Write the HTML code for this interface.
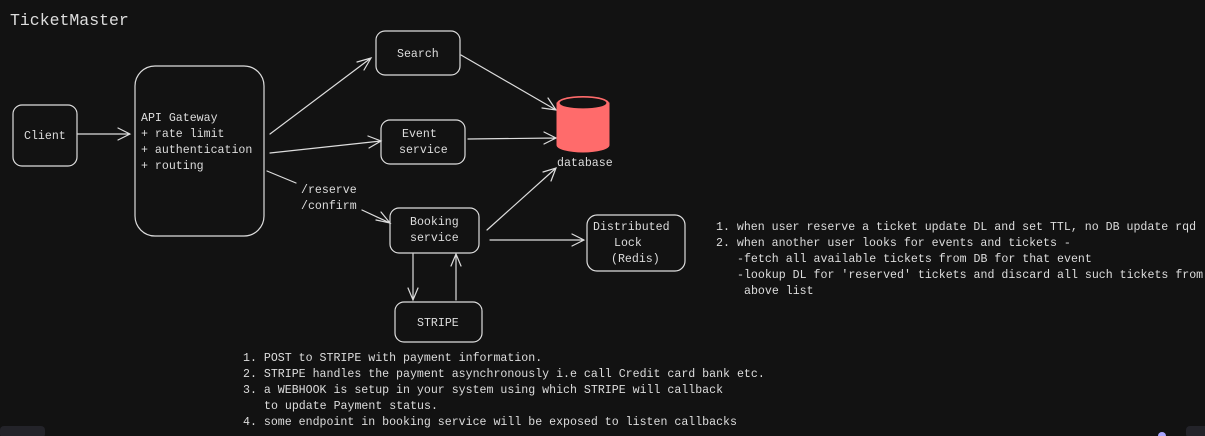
<!DOCTYPE html>
<html><head><meta charset="utf-8"><style>
html,body{margin:0;padding:0;background:#121212;width:1205px;height:436px;overflow:hidden}
svg{display:block}
text{font-family:"Liberation Mono",monospace;fill:#ddd;font-size:11.6px;white-space:pre}
</style></head><body>
<svg width="1205" height="436" viewBox="0 0 1205 436" xml:space="preserve">
<rect width="1205" height="436" fill="#121212"/>
<text x="10" y="25" style="font-size:16.5px">TicketMaster</text>
<g fill="none" stroke="#ddd" stroke-width="1.2" stroke-linecap="round">
<rect x="13" y="105" width="64" height="61" rx="9"/>
<rect x="135" y="66" width="129" height="170" rx="20"/>
<rect x="376" y="31" width="84" height="44" rx="9"/>
<rect x="381" y="120" width="84" height="44" rx="9"/>
<rect x="390" y="208" width="89" height="45" rx="9"/>
<rect x="395" y="302" width="87" height="40" rx="9"/>
<rect x="587" y="215" width="98" height="56" rx="10"/>
<path d="M78 134 L130 134 M118 128 L130 134 L118 140"/>
<path d="M270 134 L371 58 M357 62 L371 58 L364 70"/>
<path d="M270 153 L381 141 M368 136 L381 141 L369 148"/>
<path d="M461 55 L556 110 M548 98 L556 110 L542 108"/>
<path d="M468 139 L556 138 M544 132 L556 138 L544 144"/>
<path d="M267 171 L296 183"/>
<path d="M362 210 L390 223 M381 212 L390 223 L376 220"/>
<path d="M487 230 L556 168 M543 172 L556 168 L551 181"/>
<path d="M490 240 L584 240 M572 234 L584 240 L572 246"/>
<path d="M413 254 L413 300 M408 288 L413 300 L418 288"/>
<path d="M456 300 L456 254 M451 266 L456 254 L461 266"/>
</g>
<path d="M557 103 L557 145 A26 7 0 0 0 609 145 L609 103 Z" fill="#ff6b6b" stroke="#ff6b6b"/>
<ellipse cx="583" cy="103" rx="26" ry="7" fill="#ff6b6b"/>
<ellipse cx="583" cy="103" rx="23" ry="5" fill="#121212" stroke="#121212" stroke-width="0.8"/>
<text x="557" y="166">database</text>
<text x="24" y="139">Client</text>
<text x="141" y="121">API Gateway</text>
<text x="141" y="137">+ rate limit</text>
<text x="141" y="153">+ authentication</text>
<text x="141" y="169">+ routing</text>
<text x="397" y="57">Search</text>
<text x="402" y="137">Event</text>
<text x="399" y="153">service</text>
<text x="410" y="225">Booking</text>
<text x="410" y="241">service</text>
<text x="417" y="326">STRIPE</text>
<text x="593" y="230">Distributed</text>
<text x="614" y="246">Lock</text>
<text x="611" y="262">(Redis)</text>
<text x="301" y="193">/reserve</text>
<text x="301" y="209">/confirm</text>
<text x="716" y="230">1. when user reserve a ticket update DL and set TTL, no DB update rqd</text>
<text x="716" y="246">2. when another user looks for events and tickets -</text>
<text x="737" y="262">-fetch all available tickets from DB for that event</text>
<text x="737" y="278">-lookup DL for 'reserved' tickets and discard all such tickets from</text>
<text x="744" y="294">above list</text>
<text x="243" y="361">1. POST to STRIPE with payment information.</text>
<text x="243" y="377">2. STRIPE handles the payment asynchronously i.e call Credit card bank etc.</text>
<text x="243" y="393">3. a WEBHOOK is setup in your system using which STRIPE will callback</text>
<text x="264" y="409">to update Payment status.</text>
<text x="243" y="425">4. some endpoint in booking service will be exposed to listen callbacks</text>
<rect x="0" y="426" width="45" height="12" rx="4" fill="#232329"/>
<rect x="1186" y="426" width="24" height="12" rx="4" fill="#232329"/>
<circle cx="1162" cy="436" r="4" fill="#a8a5ff"/>
</svg>
</body></html>
